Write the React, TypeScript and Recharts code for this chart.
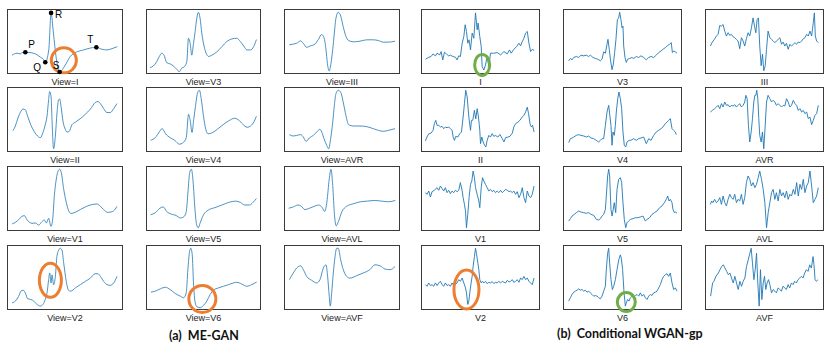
import React from 'react';
import { LineChart, Line, XAxis, YAxis, ReferenceDot } from 'recharts';

type Pt = [number, number];

// each trace: [time % of panel width, amplitude % of panel height]

// ---- ME-GAN ----
const meI: Pt[] = [[4.3,29],[8.6,32],[11.5,31],[13,33],[15.8,33.5],[20,33],[24.4,31],[28.7,26],[31.6,22],[33,18],[36,37],[38,94],[40,63],[42.5,24],[45.4,3],[50.3,14],[54.6,27],[59,33],[66,37],[72,40],[77,41],[82,38],[86,37],[90.5,39],[95,42]];
const meII: Pt[] = [[5.2,33],[7.2,40],[9.2,51],[11.5,61],[13.8,66],[15.8,65],[17.8,55],[20.7,41],[23.6,31],[26.4,24.5],[28.7,22],[31,30],[33,42],[34.5,55],[35.9,80.6],[36.8,93],[38,85],[38.8,50],[40.2,5],[41.7,24.5],[43.1,60],[44.5,80.6],[45.4,81.6],[46.6,70],[48.3,47],[50.3,34.7],[51.7,30.6],[53.7,32],[56,42],[59,46],[63,51],[67.5,58],[71.8,65.8],[76,76],[78.4,77.6],[80.5,74.5],[83.3,66.8],[86.2,60.7],[89,60.7],[92,66.8],[94.8,74.5]];
const meV1: Pt[] = [[4.3,10.8],[7.2,13.3],[10,17.4],[12.9,22.6],[15,23.6],[17.2,17.4],[19.5,13.3],[21.6,11.8],[24.4,12.3],[27.3,9.2],[30.2,14.4],[32.2,16.9],[33.9,12.3],[35.9,19.5],[37.9,7.2],[39.4,18.5],[40.8,54],[42.5,80],[44,92],[45.4,95],[46.8,90],[48.9,64],[51.1,44],[53.2,31],[55.2,27],[59,29],[63.2,33],[67.5,37],[71.8,40],[77.6,41.5],[80.5,38],[83.3,33],[86.8,28.7],[90.5,29.7],[93.4,33.8],[94.8,38]];
const meV2: Pt[] = [[4.3,11],[7.2,13.7],[10,21],[12,29],[13.8,30.5],[15.8,26.4],[17.8,17.3],[20.7,16.2],[23,13.7],[25.9,8.6],[28.7,6],[31,8.6],[33,16.2],[34.5,26.4],[35.9,46.7],[36.8,57],[38,41.6],[38.8,54],[40.2,39],[41.7,51.8],[43,82],[44.5,92],[45.9,95],[47.4,92],[48.9,72],[51.1,44],[53,30.5],[55,29],[58.9,34],[63.2,39],[67.5,44],[71.8,49],[76,55.8],[78.4,55.8],[80.5,51.8],[83.3,44],[86.2,39],[89,38],[92,41.6],[94.8,51.8]];
const meV3: Pt[] = [[3.5,10],[6.4,12.4],[9.3,19],[11.6,27],[13.7,32],[15.7,29],[18,17.5],[21,15.5],[23.8,12.4],[26.7,7.2],[29,3.6],[31,8.8],[33.4,11.3],[35.5,19],[36.9,55],[38.4,47],[39.8,29],[41.3,47],[42.7,65],[44.2,86],[45.6,95],[47,86],[48.5,63],[50.6,42],[52.3,32],[54.4,27],[57.3,29],[61.6,34],[66,42],[70.3,50],[74.7,54],[79,55],[82,50],[85,43],[87.8,37],[90.7,37],[93.6,42],[96,53]];
const meV4: Pt[] = [[4,18],[8,22],[12,32],[14,36],[17,28],[21,22],[25,18],[29,12],[32,14],[35,22],[37,58],[38.5,48],[40,30],[41.5,50],[43,70],[45,92],[46.5,95],[48,82],[50,55],[52,35],[54,28],[58,30],[62,35],[67,42],[72,48],[77,52],[80,50],[84,43],[88,38],[91,40],[94,47],[96,55]];
const meV5: Pt[] = [[4,25],[8,28],[12,35],[15,37],[18,30],[22,26],[26,24],[30,20],[33,22],[35,30],[36.5,60],[38,90],[39.5,95],[41,75],[42.5,35],[44,10],[45.5,5],[47,12],[50,25],[54,32],[60,36],[66,40],[72,44],[78,46],[82,44],[86,40],[90,40],[93,44],[96,50]];
const meV6: Pt[] = [[4.3,27.4],[8.1,29],[12.4,32.5],[16.8,35],[21,31.5],[25.4,25.4],[29.8,21.3],[32.7,18.8],[35,26.4],[36.4,62],[37.9,90],[39,95],[40.2,85],[41.3,41.6],[42.8,11],[44.2,5],[47.1,3.6],[50,7.1],[52.9,13.7],[55.8,23.9],[58.7,30.5],[63,34],[67.3,36.5],[71.7,39],[76,41.6],[78.9,42.6],[83.2,40],[87.6,36.5],[91.9,39],[96.2,43]];
const meIII: Pt[] = [[4.6,45],[8,46],[11,47.4],[14.4,51],[16.7,47],[19.5,41],[22.4,43],[26.7,46],[29.6,53],[32.5,60.8],[34.5,55.7],[36.2,37.6],[37.4,16.5],[39,4.6],[40.5,16.5],[42,37.6],[43.4,63],[44.8,86],[46.8,95],[48.9,89],[51,73],[53.4,58],[55.7,51.5],[59.8,49.5],[65.5,50.5],[71.3,52.6],[77,52.6],[81.3,51.5],[85.6,49],[90,49],[95.7,50.5]];
const meAVR: Pt[] = [[4.6,26.7],[8,24.6],[11,25.6],[14.4,26.7],[16.7,23],[19,16.4],[21.8,21.5],[25.3,25.6],[28.2,30.8],[31,34.9],[32.5,30.8],[34.5,20.5],[36.8,10.3],[38.5,5],[40.2,20.5],[42,46],[43.4,71.8],[44.8,89.7],[46.8,95],[48.9,92],[51,77],[53.4,56],[55.7,42],[59.8,40],[65.5,40],[71.3,39],[77,35.9],[81.3,33.3],[85.6,31.8],[90,33.3],[95.7,35.9]];
const meAVL: Pt[] = [[4,35],[8,37],[12,40],[15,38],[18,33],[22,35],[26,38],[30,40],[33,36],[35,30],[37,45],[39,80],[40.5,95],[42,70],[43.5,25],[45,8],[47,15],[50,30],[54,38],[60,42],[66,45],[72,46],[78,47],[84,46],[90,45],[96,47]];
const meAVF: Pt[] = [[4.6,46.7],[8,56.9],[10.9,64.5],[14.4,68],[16.7,62],[19.5,51.8],[23.9,45.7],[28.2,41.6],[31,46.7],[33.9,64.5],[36.2,69.5],[37.6,51.8],[39,21.3],[39.9,6],[41.1,26.4],[42.5,57],[44,82],[45.4,95],[46.8,95],[48.9,77],[51.1,62],[54,51.8],[56.9,49],[62.6,52.8],[68.4,57],[74,62],[78.4,69.5],[82.8,68],[87.1,63],[91.4,62],[95.7,67]];

// ---- Conditional WGAN-gp ----
const wgI: Pt[] = [[3.7,22.7],[6.5,25.8],[8.4,26.8],[10.1,30.9],[12.1,27.8],[13.5,32],[15.7,29.4],[16.9,34.5],[18.3,21.6],[19.7,33.5],[21.3,30.9],[23.3,27.8],[24.7,29],[27,26.8],[29,25.8],[30.3,21.6],[31.7,28],[33.1,26.8],[34.6,47.4],[36,57.7],[37.1,75.8],[38.2,65.5],[39.3,47.4],[40.4,52.6],[41.6,37],[43,63],[44.4,55],[45.8,94],[47.2,68],[48,78.4],[49.4,57.7],[50.6,42],[51.4,11.3],[52.8,6.2],[54.2,14],[55.6,27],[57,11.3],[58.4,32],[61.2,32],[64,33],[66.9,29.4],[69.7,34.5],[72.5,31],[74.4,37],[75.8,32],[78,38],[80.3,42],[82.3,47.4],[83.7,43.3],[85.1,50],[86.5,55],[87.9,63],[89.3,65.5],[90.7,47.4],[92.1,34.5],[93.5,38],[95,36]];
const wgII: Pt[] = [[3.7,17],[5,23],[6.5,28],[8.4,29],[10.1,33],[11.2,43.6],[12.4,48.7],[13.5,41],[14.9,41],[16.3,38.5],[17.7,39.5],[19.1,35.9],[20.5,38.5],[21.9,37.4],[23.3,38.5],[24.7,35.9],[26.1,33.3],[27,23],[28.1,17.9],[29.2,24.1],[30.9,23],[32.6,28.2],[34,30.8],[35.4,53.8],[36.5,74.4],[37.6,95],[38.8,84.6],[40.2,53.8],[41.6,33.3],[42.4,48.7],[43.5,48.7],[44.9,64],[46,51],[47.2,66.7],[48.3,53.8],[49.4,33.3],[50,12.8],[51.1,23],[52.2,15.4],[53.4,10.3],[54.5,7.7],[55.6,17.9],[57,25.6],[58.4,23],[59.8,28.2],[61.2,24],[62.6,25.6],[64.6,23],[66.3,27],[68.3,20.5],[69.7,15.4],[71.1,22],[73,23],[74.7,24],[76.7,29],[78,38.5],[79.5,43.6],[81.5,46],[83.1,48.7],[85.1,53.8],[86.5,56.4],[87.9,61.5],[89.3,69],[90.4,59],[91.6,43.6],[92.7,38.5],[93.8,41],[95,30.8]];
const wgV1: Pt[] = [[3.7,59],[5,56.4],[6.5,61.5],[7.9,52.3],[9.3,60.5],[11.2,62.6],[13.5,66.7],[14.9,62.6],[16.3,69.2],[17.7,65.6],[19.1,61.5],[20.5,66.7],[21.9,59],[23.3,62.6],[24.7,57.4],[26.1,61.5],[27.5,59],[28.9,62.6],[30.3,60.5],[31.7,62.6],[33.1,74.4],[34.6,61.5],[35.4,51.3],[36.5,41],[37.4,30.8],[38.2,5],[39.3,25.6],[40.4,51.3],[41.6,71.8],[42.7,76.9],[43.8,92.3],[44.9,82],[45.8,66.7],[47.2,56.4],[48.6,46],[49.4,35.9],[50.6,66.7],[51.7,82],[52.8,76.9],[54.2,71.8],[55.6,66.7],[57,61.5],[58.4,64],[59.8,60.5],[61.2,62.6],[62.6,59],[64,61.5],[65.4,59],[66.9,62.6],[68.3,59],[69.7,61.5],[71.1,64],[72.5,62.6],[74,60.5],[75.3,61.5],[76.7,59],[78,61.5],[79.5,56.4],[80.9,60.5],[82.3,51.3],[83.7,56.4],[85.1,66.7],[86.5,51.3],[87.9,43.6],[89.3,61.5],[90.7,53.8],[92.1,51.3],[93.5,56.4],[95,69.2]];
const wgV2: Pt[] = [[3.7,39],[5,36.5],[6.5,41.6],[7.9,37.6],[9.3,39],[10.7,36.5],[12.1,41.6],[13.5,37.6],[14.9,41.6],[16.3,44.2],[17.7,39],[19.1,36.5],[20.5,41.6],[21.9,37.6],[23.3,39],[24.7,36.5],[26.1,41.6],[27.5,37.6],[28.9,39],[30.3,41.6],[31.7,46.7],[33.1,44.2],[34.6,49.2],[36,41.6],[37.4,34],[38.2,26.4],[39.3,8.6],[40.2,13.7],[41,26.4],[42.1,41.6],[43,51.8],[43.8,67],[44.9,82.2],[45.8,95],[46.6,87.3],[47.8,72],[48.6,62],[49.4,46.7],[50.6,41.6],[51.7,44.2],[52.8,41.6],[54.2,44.2],[55.6,40.6],[57,42.6],[58.4,41.6],[59.8,43.7],[61.2,40.6],[62.6,42.6],[64,41.6],[65.4,44.2],[66.9,41.6],[68.3,44.2],[69.7,42.6],[71.1,41.6],[72.5,45.7],[74,43.1],[75.3,44.2],[76.7,46.7],[78,42.6],[79.5,44.2],[80.9,46.7],[82.3,42.6],[83.7,49.2],[85.1,46.7],[86.5,51.8],[87.9,46.7],[89.3,49.2],[90.7,44.2],[92.1,41.6],[93.5,39],[95,49.2]];
const wgV3: Pt[] = [[4.8,20.3],[6.2,23.9],[7.6,21.8],[9,25.4],[11.2,26.9],[13.2,25.4],[15.1,29],[17.4,28],[19.6,29],[21.6,26.9],[23,29],[25.2,25.4],[27.2,23.9],[29.1,22.8],[31.4,20.3],[32.8,22.8],[34.2,34],[35.6,32],[37,45.7],[37.8,53.3],[38.9,38],[40,20.3],[41.2,6.6],[42.3,15.2],[43.4,33],[44.5,53.3],[45.7,83.8],[46.8,86.3],[47.6,95],[48.7,83.8],[49.6,71],[50.4,73.6],[51,43],[52.1,25.4],[53.2,17.8],[54.3,22.8],[56,23.9],[58,25.4],[59.4,23.9],[61.6,26.9],[63.6,25.4],[65.5,28],[67.8,25.4],[70,21.8],[72,25.4],[74,26.9],[76.2,25.4],[78.4,29],[80.4,33],[82.4,35.5],[84,38],[86,40.6],[88,44],[89.6,45.7],[91,48.2],[91.9,33],[93,35.5],[94.4,34],[95.8,32]];
const wgV4: Pt[] = [[4.8,14.4],[6.2,20.5],[7.6,21.5],[9,23],[11.2,25.6],[13.2,26.7],[15.1,25.6],[17.4,24.6],[19.6,23],[21.6,24.6],[23.5,21.5],[25.8,20.5],[28,17.9],[30,15.4],[31.4,17.9],[32.8,20.5],[34.2,20.5],[35.6,41],[37,61.5],[38.4,71.8],[39.2,59],[40.3,41],[41.2,10.3],[42,30.8],[43.1,25.6],[44,41],[44.8,61.5],[46,82],[47,92.3],[48.2,82],[49.3,66.7],[50.4,30.8],[51.5,10.3],[52.7,7.7],[53.8,15.4],[55.5,18],[57.1,18],[59.4,20.5],[61.6,18],[63.6,20.5],[65.5,21.5],[67.8,23],[70,12.8],[72,20.5],[74,18],[76.2,25.6],[78.4,30.8],[80.4,33.3],[82.4,35.9],[84,38.5],[86,43.6],[87.4,46],[88.8,48.7],[90.2,51.3],[91.6,35.9],[93,33.3],[94.4,30.8],[95.2,26.7]];
const wgV5: Pt[] = [[4.8,15.4],[6.2,19],[7.6,23],[9.5,25.6],[11.2,28.2],[13.2,30.8],[15.1,29.2],[17.4,28.2],[19.6,27.2],[21.6,28.2],[23.5,25.6],[25.8,24.1],[28,17.9],[30,16.9],[31.4,19],[32.8,23],[34.2,25.6],[35.6,33.3],[36.4,53.8],[37.5,84.6],[38.4,95],[39.2,84.6],[40.3,33.3],[41.2,23],[42,30.8],[43.1,43.6],[44.3,28.2],[45.4,64],[46.8,79.5],[48.2,82],[49.3,74.4],[50.4,43.6],[51.5,17.9],[52.7,5],[53.8,12.8],[55.2,15.4],[56.6,17.9],[58.8,19],[60.8,20.5],[62.7,20.5],[65,21.5],[67.2,23],[69.2,15.4],[70.6,17.9],[72.8,20.5],[74.8,25.6],[76.8,28.2],[79,30.8],[81.2,35.9],[83.2,38.5],[85.2,43.6],[86.8,48.7],[88,53.8],[89.1,46.2],[90.2,48.7],[91.6,43.6],[92.4,33.3],[93.6,28.2],[94.7,29.2],[95.8,27.2]];
const wgV6: Pt[] = [[4.8,13.7],[6.2,18.8],[7.6,23.9],[9,27.4],[10.4,29],[11.8,30.5],[13.2,32.5],[14.6,30.5],[16,31.5],[17.4,29],[18.8,30.5],[20.2,27.4],[21.6,29],[23,26.4],[24.4,23.9],[25.8,21.3],[27.2,22.3],[28.6,21.3],[30,18.8],[31.4,17.3],[32.8,21.3],[34.2,29],[35.6,36.5],[36.4,62],[37.5,87.3],[38.4,95],[39.2,72],[40.3,46.7],[41.5,31.5],[42.6,36.5],[44,46.7],[45.4,62],[46.8,77],[48.2,84.8],[49,79.7],[50.1,62],[51.3,26.4],[52.4,6],[53.2,11],[54.3,16.2],[55.5,13.7],[56.6,18.8],[58,21.3],[59.4,20.3],[60.8,22.3],[62.2,23.9],[63.6,21.3],[65,26.4],[66.4,21.3],[67.8,23.9],[69.2,18.8],[70.6,16.2],[72,21.3],[73.4,23.9],[74.8,22.3],[76.2,26.4],[77.6,27.4],[79,29],[80.4,34],[81.8,39],[83.2,46.7],[84.6,51.8],[86,54.3],[87.4,55.8],[88.8,51.8],[90.2,56.9],[91.6,41.6],[93,31.5],[94.4,34],[95.8,29]];
const wgIII: Pt[] = [[4.5,43],[6.2,49.2],[7.9,53.3],[9.6,58.4],[11,61],[12.4,74.6],[13.8,73.6],[15.2,76.1],[16.6,66],[18,58.4],[19.4,63.5],[20.8,59.4],[22.2,61],[23.6,57.4],[25,55.8],[26.4,53.3],[27.8,50.8],[29.2,39],[30.6,55.8],[32,50.8],[33.4,43],[34.8,54.3],[36.2,63.5],[37.6,58.4],[39,71],[40.4,86.3],[41.6,73.6],[42.7,63.5],[43.8,83.8],[44.9,86.3],[46,43],[47.2,12.7],[48.3,30.5],[49.4,5],[50.6,12.7],[51.7,38],[53,66],[54.5,56],[55.9,53.3],[57.3,50.8],[58.7,48.2],[60,50.8],[61.5,53.3],[62.9,55.8],[64.3,45.7],[65.7,49.2],[67.1,43],[68.5,47.2],[69.9,38],[71.3,45.7],[72.7,43],[74.2,45.7],[75.6,48.2],[77,45.7],[78.4,49.2],[79.8,48.2],[81.2,50.8],[82.6,54.3],[84,55.8],[85.4,61],[86.8,58.4],[88.2,66],[89.6,58.4],[91,78.7],[91.9,94],[92.7,58.4],[93.8,50.8],[95.2,48.2]];
const wgAVR: Pt[] = [[4.5,61.5],[6.2,64],[8.1,66.7],[9.6,69.2],[11,71.8],[12.4,66.7],[13.8,74.4],[15.2,69.2],[16.6,76.9],[18,71.8],[19.4,72.8],[20.8,69.2],[22.2,71.8],[23.6,70.8],[25,72.8],[26.4,69.2],[27.8,71.8],[29.2,74.4],[30.6,69.2],[32,71.8],[33.4,76.9],[34.3,87.2],[35.4,82],[36.5,41],[37.6,15.4],[38.8,30.8],[39.9,51.3],[41,76.9],[41.9,87.2],[42.7,87.2],[43.5,94.9],[44.4,82],[45.2,51.3],[46,25.6],[47.2,15.4],[48.3,30.8],[49.4,5],[50.6,41],[51.7,76.9],[53,87.2],[54.5,82],[55.9,76.9],[57.3,79.5],[58.7,76.9],[60,71.8],[61.5,74.4],[62.9,71.8],[64.3,69.2],[65.7,71.8],[67.1,70.8],[68.5,82],[69.9,76.9],[71.3,69.2],[72.7,71.8],[74.2,79.5],[75.6,74.4],[77,71.8],[78.4,64],[79.8,66.7],[81.2,61.5],[82.6,64],[84,59],[85.4,61.5],[86.8,51.3],[88.2,53.8],[89.6,42],[91,48.7],[92.4,56.4],[93.8,59],[95.2,71.8]];
const wgAVL: Pt[] = [[4.5,41],[5.6,46.2],[6.7,43.6],[8.1,48.7],[9.6,43.6],[11,46.2],[12.4,51.3],[13.8,41],[15.2,53.8],[16.6,43.6],[18,38.5],[19.4,48.7],[20.8,56.4],[22.2,51.3],[23.6,48.7],[25,56.4],[26.4,43.6],[27.8,48.7],[29.2,46.2],[30.6,56.4],[32,41],[33.4,51.3],[34.8,74.4],[36.2,84.6],[37.6,79.5],[39,69.2],[40.4,74.4],[41.9,66.7],[43.3,71.8],[44.7,82],[46,92.3],[47.5,79.5],[48.9,64],[50.3,43.6],[51.7,5],[53.1,28.2],[54.5,43.6],[55.9,59],[57.3,64],[58.7,48.7],[60,59],[61.5,46.2],[62.9,64],[64.3,53.8],[65.7,59],[67.1,51.3],[68.5,61.5],[69.9,48.7],[71.3,56.4],[72.7,53.8],[74.2,64],[75.6,56.4],[77,74.4],[78.4,53.8],[79.8,71.8],[81.2,64],[82.6,79.5],[84,59],[85.4,69.2],[86.8,74.4],[88.2,92.3],[89.6,69.2],[91,43.6],[92.4,48.7],[93.8,53.8],[95.2,66.7]];
const wgAVF: Pt[] = [[4.7,21.3],[6.4,41.6],[7.5,44.2],[9.2,51.8],[11.2,56.9],[12.6,62],[14,67],[15.4,69.5],[16.8,64.5],[18.2,59.4],[19.6,54.3],[20.9,56.9],[22.3,49.2],[23.7,41.6],[25.1,51.8],[26.5,41.6],[27.9,31.5],[29.3,44.2],[30.7,36.5],[32.1,44.2],[33.5,49.2],[34.9,67],[36.3,77],[37.7,87.3],[38.8,95],[39.9,72],[41.1,46.7],[42.2,62],[43.3,87.3],[44.4,41.6],[45.5,6],[46.6,62],[47.8,16.2],[48.9,41.6],[50,51.8],[51.1,31.5],[52.2,41.6],[53.4,46.7],[54.5,39],[55.9,26.4],[57.3,31.5],[58.7,29],[60,26.4],[61.5,34],[62.8,31.5],[64.2,29],[65.6,36.5],[67,34],[68.4,31.5],[69.8,39],[71.2,34],[72.6,41.6],[74,39],[75.4,44.2],[76.8,41.6],[78.2,46.7],[79.6,49.2],[81,51.8],[82.4,49.2],[83.8,56.9],[85.2,62],[86.6,59.4],[88,69.5],[89.4,64.5],[90.8,82.2],[91.6,69.5],[92.5,46.7],[93.6,44.2],[95,46.7]];

const leadGrid = [
  ['I', 'II', 'V1', 'V2'],
  ['V3', 'V4', 'V5', 'V6'],
  ['III', 'AVR', 'AVL', 'AVF'],
];

const meData: Record<string, Pt[]> = {
  I: meI, II: meII, V1: meV1, V2: meV2, V3: meV3, V4: meV4,
  V5: meV5, V6: meV6, III: meIII, AVR: meAVR, AVL: meAVL, AVF: meAVF,
};
const wgData: Record<string, Pt[]> = {
  I: wgI, II: wgII, V1: wgV1, V2: wgV2, V3: wgV3, V4: wgV4,
  V5: wgV5, V6: wgV6, III: wgIII, AVR: wgAVR, AVL: wgAVL, AVF: wgAVF,
};

// P Q R S T points on ME-GAN lead I
const waveNames = ['P', 'Q', 'R', 'S', 'T'];
const waveT = [15.8, 33, 38, 45.4, 77];
const waveV = [33.5, 18, 94, 3, 41];
const waveLabelOffset: Record<string, [number, number]> = {
  P: [3, -4], Q: [-12, 9], R: [4, 5], S: [-7, -3], T: [-9, -4],
};

// highlighted regions: [method, lead, t, v, rx, ry, colour]
const rings: [string, string, number, number, number, number, string][] = [
  ['me', 'I', 49, 21, 12.5, 12.5, '#ed7d31'],
  ['me', 'V2', 37.4, 45.7, 11, 17, '#ed7d31'],
  ['me', 'V6', 49, 17, 13.5, 13.5, '#ed7d31'],
  ['wg', 'I', 51.4, 14, 7.5, 10.5, '#70ad47'],
  ['wg', 'V2', 38.2, 31.5, 12.5, 19.5, '#ed7d31'],
  ['wg', 'V6', 53.2, 12.2, 9, 9.5, '#70ad47'],
];

const colLeft = [7, 146, 284, 421, 563, 705];
const colWidth = [116, 115, 116, 119, 119, 119];
const rowTop = [9, 87, 166, 245];
const BOX_H = 65;
const PAD = 18;

function Panel({ pts, left, top, width, smooth, label, extras }: any) {
  const data = pts.map(([t, v]: Pt) => ({ t, v }));
  return (
    <div style={{ position: 'absolute', left: left - PAD, top: top - PAD }}>
      <div style={{ position: 'absolute', left: PAD, top: PAD, width, height: BOX_H, border: '1px solid #3a3a3a', boxSizing: 'border-box' }} />
      <LineChart width={width + 2 * PAD} height={BOX_H + 2 * PAD} data={data} margin={{ top: PAD, right: PAD, bottom: PAD, left: PAD }}>
        <XAxis type="number" dataKey="t" domain={[0, 100]} hide />
        <YAxis type="number" domain={[0, 100]} hide />
        <Line dataKey="v" type={smooth ? 'monotone' : 'linear'} stroke="#1f77b4" strokeWidth={smooth ? 0.8 : 0.9} dot={false} isAnimationActive={false} />
        {extras}
      </LineChart>
      <div style={{ position: 'absolute', left: PAD, top: PAD + BOX_H + 3, width, textAlign: 'center', fontFamily: '"Liberation Sans", Arial, sans-serif', fontSize: 9, lineHeight: '10px', color: '#222' }}>{label}</div>
    </div>
  );
}

function ringDots(method: string, lead: string) {
  return rings
    .filter((r) => r[0] === method && r[1] === lead)
    .map((r, i) => (
      <ReferenceDot key={`ring-${i}`} x={r[2]} y={r[3]} r={1} ifOverflow="visible"
        shape={(p: any) => <ellipse cx={p.cx} cy={p.cy} rx={r[4]} ry={r[5]} fill="none" stroke={r[6]} strokeWidth={3} />} />
    ));
}

function waveDots() {
  return waveNames.map((n, i) => (
    <ReferenceDot key={`w-${n}`} x={waveT[i]} y={waveV[i]} r={1} ifOverflow="visible"
      shape={(p: any) => (
        <g>
          <circle cx={p.cx} cy={p.cy} r={2.3} fill="#000" />
          <text x={p.cx + waveLabelOffset[n][0]} y={p.cy + waveLabelOffset[n][1]} fontSize={10} fontFamily='"Liberation Sans", Arial, sans-serif' fill="#000">{n}</text>
        </g>
      )} />
  ));
}

export default function App() {
  const panels: React.ReactNode[] = [];
  leadGrid.forEach((col, c) => {
    col.forEach((lead, r) => {
      const meExtras = [...ringDots('me', lead), ...(lead === 'I' ? waveDots() : [])];
      panels.push(
        <Panel key={`me-${lead}`} pts={meData[lead]} left={colLeft[c]} top={rowTop[r]} width={colWidth[c]} smooth label={`View=${lead}`} extras={meExtras} />
      );
      panels.push(
        <Panel key={`wg-${lead}`} pts={wgData[lead]} left={colLeft[c + 3]} top={rowTop[r]} width={colWidth[c + 3]} smooth={false} label={lead} extras={ringDots('wg', lead)} />
      );
    });
  });
  const captionStyle: React.CSSProperties = { position: 'absolute', fontFamily: 'Lato, "Open Sans", sans-serif', fontSize: 12.5, fontWeight: 700, color: '#111', whiteSpace: 'nowrap' };
  return (
    <div style={{ position: 'absolute', left: 0, top: 0, width: 830, height: 353, background: '#fff', overflow: 'hidden' }}>
      {panels}
      <div style={{ ...captionStyle, left: 169, top: 328 }}>(a)&nbsp;&nbsp;ME-GAN</div>
      <div style={{ ...captionStyle, left: 557, top: 326 }}>(b)&nbsp;&nbsp;Conditional WGAN-gp</div>
    </div>
  );
}
